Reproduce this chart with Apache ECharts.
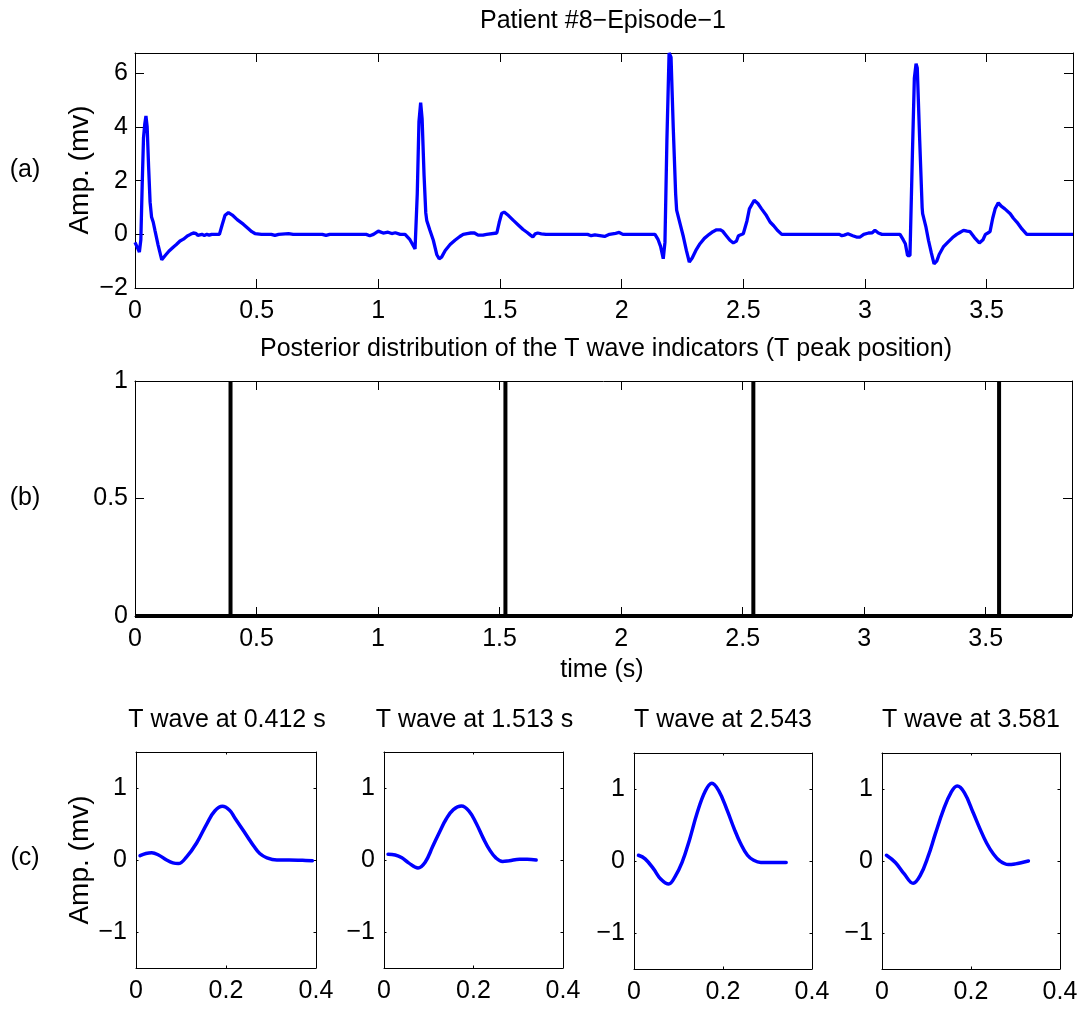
<!DOCTYPE html>
<html>
<head>
<meta charset="utf-8">
<script src="https://cdn.jsdelivr.net/npm/echarts@6/dist/echarts.min.js"></script>
<style>
html,body{margin:0;padding:0;background:#fff;}
#chart{width:1085px;height:1010px;}
</style>
</head>
<body>
<div id="chart"></div>
<script>
// ---------------- DATA ----------------
const mainTitle = 'Patient #8\u2212Episode\u22121';
const posteriorTitle = 'Posterior distribution of the T wave indicators (T peak position)';
const timeLabel = 'time (s)';
const ampLabel = 'Amp. (mv)';
const panelTags = ['(a)', '(b)', '(c)'];
const tWaveTitles = ['T wave at 0.412 s', 'T wave at 1.513 s', 'T wave at 2.543', 'T wave at 3.581'];

const timeTicks = [0, 0.5, 1, 1.5, 2, 2.5, 3, 3.5];
const ecgTicks = [-2, 0, 2, 4, 6];
const probTicks = [0, 0.5, 1];
const tWaveTimeTicks = [0, 0.2, 0.4];
const tWaveAmpTicks = [-1, 0, 1];

const timeRange = [0, 3.855];
const ecgRange = [-2, 6.76];

// ECG trace: [time (s), amplitude (mV)]
const ecgSamples = [
  [0.000,-0.30],[0.007,-0.35],[0.018,-0.66],[0.024,-0.20],[0.030,2.00],[0.035,3.60],[0.040,4.10],[0.045,4.41],
  [0.050,4.00],[0.056,2.50],[0.062,1.20],[0.068,0.65],[0.075,0.45],[0.082,0.15],[0.095,-0.40],[0.110,-0.95],
  [0.125,-0.78],[0.140,-0.62],[0.158,-0.47],[0.170,-0.38],[0.185,-0.25],[0.199,-0.18],[0.215,-0.06],[0.228,0.00],
  [0.240,0.05],[0.250,0.04],[0.258,-0.04],[0.266,0.02],[0.275,0.00],[0.285,-0.04],[0.295,0.00],[0.305,-0.03],
  [0.315,0.00],[0.347,0.00],[0.358,0.35],[0.370,0.71],[0.384,0.81],[0.400,0.72],[0.420,0.55],[0.445,0.38],
  [0.465,0.22],[0.480,0.10],[0.493,0.03],[0.520,0.00],[0.560,0.00],[0.575,-0.04],[0.590,0.00],[0.631,0.03],
  [0.650,0.00],[0.770,0.00],[0.785,-0.04],[0.800,0.00],[0.950,0.00],[0.965,-0.05],[0.980,0.00],[1.000,0.12],
  [1.020,0.05],[1.040,0.08],[1.055,0.03],[1.070,0.06],[1.090,0.00],[1.110,0.00],[1.130,-0.20],[1.151,-0.54],
  [1.160,1.50],[1.167,4.20],[1.174,4.91],[1.180,4.30],[1.188,2.20],[1.195,0.80],[1.199,0.52],[1.212,0.15],
  [1.226,-0.22],[1.240,-0.75],[1.250,-0.91],[1.260,-0.85],[1.275,-0.60],[1.295,-0.38],[1.315,-0.22],[1.335,-0.08],
  [1.349,0.00],[1.365,0.03],[1.380,0.05],[1.395,0.05],[1.410,-0.03],[1.430,-0.03],[1.445,0.00],[1.487,0.05],
  [1.497,0.45],[1.507,0.78],[1.517,0.83],[1.535,0.70],[1.555,0.52],[1.575,0.35],[1.595,0.18],[1.612,0.07],
  [1.624,-0.02],[1.635,-0.10],[1.645,0.02],[1.655,0.05],[1.660,-0.02],[1.670,0.02],[1.689,0.00],[1.692,0.05],
  [1.700,0.00],[1.860,0.00],[1.875,-0.05],[1.890,-0.02],[1.910,-0.05],[1.930,-0.08],[1.950,0.00],[1.975,0.04],
  [1.990,0.07],[2.005,0.00],[2.137,0.00],[2.150,-0.20],[2.160,-0.45],[2.171,-0.91],[2.178,-0.30],[2.186,3.50],
  [2.195,6.76],[2.203,6.60],[2.212,4.00],[2.222,1.50],[2.226,0.90],[2.240,0.40],[2.254,-0.10],[2.266,-0.60],
  [2.278,-1.03],[2.290,-0.88],[2.305,-0.60],[2.322,-0.35],[2.340,-0.15],[2.360,0.00],[2.375,0.10],[2.390,0.17],
  [2.405,0.17],[2.415,0.12],[2.430,-0.05],[2.445,-0.22],[2.459,-0.32],[2.472,-0.25],[2.480,-0.05],[2.487,0.00],
  [2.500,0.02],[2.507,0.09],[2.515,0.50],[2.525,0.95],[2.545,1.27],[2.560,1.15],[2.575,0.95],[2.595,0.70],
  [2.610,0.46],[2.625,0.32],[2.640,0.15],[2.658,0.00],[2.895,0.00],[2.905,-0.05],[2.915,-0.03],[2.930,0.02],
  [2.950,-0.05],[2.965,-0.10],[2.980,-0.10],[2.995,0.00],[3.015,0.05],[3.030,0.06],[3.041,0.15],[3.055,0.05],
  [3.070,0.00],[3.144,0.00],[3.157,-0.20],[3.166,-0.35],[3.175,-0.79],[3.185,-0.79],[3.195,3.00],[3.203,5.82],
  [3.210,6.36],[3.215,6.20],[3.225,3.50],[3.235,1.00],[3.237,0.77],[3.250,0.30],[3.261,-0.22],[3.273,-0.70],
  [3.284,-1.10],[3.295,-1.00],[3.305,-0.75],[3.322,-0.47],[3.340,-0.30],[3.360,-0.12],[3.377,0.00],[3.390,0.07],
  [3.405,0.15],[3.420,0.12],[3.432,0.10],[3.450,-0.12],[3.470,-0.32],[3.485,-0.20],[3.495,0.00],[3.505,0.05],
  [3.514,0.10],[3.525,0.60],[3.535,0.95],[3.548,1.18],[3.560,1.05],[3.575,0.95],[3.597,0.77],[3.610,0.60],
  [3.625,0.45],[3.645,0.20],[3.665,0.00],[3.830,0.00],[3.835,0.05],[3.840,0.00],[3.855,0.00]
];

// Posterior T-peak indicator positions (s), indicator value 1 at each
const tPeakTimes = [0.393, 1.524, 2.544, 3.555];

// Extracted T waves: [time within window (s), amplitude (mV)]
const tWave1 = [[0.009,0.06],[0.022,0.09],[0.035,0.10],[0.050,0.07],[0.068,0.00],[0.082,-0.04],[0.094,-0.05],[0.112,0.04],
  [0.135,0.24],[0.158,0.51],[0.175,0.68],[0.192,0.745],[0.208,0.69],[0.220,0.58],[0.232,0.47],[0.248,0.32],[0.262,0.19],
  [0.275,0.09],[0.291,0.03],[0.313,0.00],[0.340,0.00],[0.370,-0.005],[0.392,-0.01]];
const tWave2 = [[0.009,0.08],[0.025,0.07],[0.040,0.03],[0.055,-0.04],[0.076,-0.11],[0.092,-0.03],[0.109,0.19],[0.125,0.40],
  [0.139,0.57],[0.155,0.70],[0.173,0.75],[0.190,0.68],[0.206,0.51],[0.222,0.30],[0.236,0.14],[0.250,0.03],[0.265,-0.02],
  [0.280,-0.01],[0.303,0.01],[0.320,0.01],[0.340,0.00]];
const tWave3 = [[0.010,0.08],[0.025,0.03],[0.044,-0.11],[0.060,-0.25],[0.078,-0.32],[0.092,-0.22],[0.108,-0.02],[0.125,0.30],
  [0.142,0.67],[0.160,0.97],[0.175,1.08],[0.190,0.98],[0.209,0.71],[0.225,0.45],[0.239,0.25],[0.255,0.08],[0.269,0.01],
  [0.285,-0.02],[0.310,-0.02],[0.342,-0.02]];
const tWave4 = [[0.010,0.08],[0.030,-0.02],[0.050,-0.18],[0.070,-0.31],[0.086,-0.20],[0.104,0.07],[0.120,0.38],[0.138,0.71],
  [0.155,0.95],[0.169,1.04],[0.185,0.95],[0.205,0.67],[0.220,0.45],[0.235,0.25],[0.250,0.10],[0.265,0.00],[0.284,-0.05],
  [0.300,-0.04],[0.315,-0.02],[0.329,0.00]];
const tWaves = [tWave1, tWave2, tWave3, tWave4];

// ---------------- BUILD ----------------
const FONT = '"Liberation Sans", Arial, Helvetica, sans-serif';
const fmt = v => (v < 0 ? '\u2212' + Math.abs(v) : String(v));

// indicator trace: zero baseline with unit spikes at tPeakTimes
const indicatorData = [[timeRange[0], 0]];
tPeakTimes.forEach(t => { indicatorData.push([t, 0], [t, 1], [t, 0]); });
indicatorData.push([timeRange[1], 0]);

const grids = [
  {left: 135, top: 53, width: 938, height: 235},
  {left: 135, top: 381, width: 937, height: 235},
  {left: 136, top: 752, width: 180, height: 216},
  {left: 384, top: 752, width: 179, height: 216},
  {left: 634, top: 753, width: 178, height: 216},
  {left: 882, top: 753, width: 178, height: 216}
];

const xAxes = [], yAxes = [];
function addAxes(gi, xr, xt, yr, yt, tickLen, xMargin, yMargin) {
  const lineStyle = {color: '#000', width: 1};
  const common = {
    type: 'value', gridIndex: gi, splitLine: {show: false},
    axisLine: {show: true, onZero: false, lineStyle}
  };
  xAxes.push(Object.assign({}, common, {
    position: 'bottom', min: xr[0], max: xr[1],
    axisTick: {show: true, inside: true, length: tickLen, customValues: xt, lineStyle},
    axisLabel: {show: true, customValues: xt, formatter: fmt, margin: xMargin, color: '#000', fontFamily: FONT, fontSize: 25}
  }));
  xAxes.push(Object.assign({}, common, {
    position: 'top', min: xr[0], max: xr[1],
    axisTick: {show: true, inside: true, length: tickLen, customValues: xt, lineStyle},
    axisLabel: {show: false}
  }));
  yAxes.push(Object.assign({}, common, {
    position: 'left', min: yr[0], max: yr[1],
    axisTick: {show: true, inside: true, length: tickLen, customValues: yt, lineStyle},
    axisLabel: {show: true, customValues: yt, formatter: fmt, margin: yMargin, color: '#000', fontFamily: FONT, fontSize: 25}
  }));
  yAxes.push(Object.assign({}, common, {
    position: 'right', min: yr[0], max: yr[1],
    axisTick: {show: true, inside: true, length: tickLen, customValues: yt, lineStyle},
    axisLabel: {show: false}
  }));
}

addAxes(0, timeRange, timeTicks, ecgRange, ecgTicks, 9, 11, 7);
addAxes(1, timeRange, timeTicks, [0, 1], probTicks, 9, 11, 7);
for (let i = 0; i < 4; i++) addAxes(2 + i, [0, 0.4], tWaveTimeTicks, [-1.5, 1.5], tWaveAmpTicks, 2.5, 11, 9);

const series = [
  {type: 'line', xAxisIndex: 0, yAxisIndex: 0, data: ecgSamples, showSymbol: false, symbol: 'none',
   lineStyle: {color: '#0000ff', width: 3.3}, clip: true},
  {type: 'line', xAxisIndex: 2, yAxisIndex: 2, data: indicatorData, showSymbol: false, symbol: 'none',
   lineStyle: {color: '#000', width: 4}, clip: true}
];
tWaves.forEach((w, i) => {
  series.push({type: 'line', xAxisIndex: 4 + 2 * i, yAxisIndex: 4 + 2 * i, data: w, showSymbol: false, symbol: 'none',
    smooth: 0.4, lineStyle: {color: '#0000ff', width: 3.5, cap: 'round', join: 'round'}, clip: true});
});

function txt(text, x, y, size, rot) {
  return {type: 'text', x: x, y: y, rotation: rot || 0,
    style: {text: text, fill: '#000', font: size + 'px ' + FONT, textAlign: 'center', textVerticalAlign: 'middle'}};
}
const twCenters = [227, 474.5, 723, 971];
const graphic = [
  txt(mainTitle, 603, 21.5, 25),
  txt(posteriorTitle, 606, 349, 25),
  txt(timeLabel, 602, 670.5, 25),
  txt(panelTags[0], 25, 170, 25),
  txt(panelTags[1], 25, 498, 25),
  txt(panelTags[2], 25, 858, 25),
  txt(ampLabel, 80, 170, 28, Math.PI / 2),
  txt(ampLabel, 80, 860, 28, Math.PI / 2)
];
tWaveTitles.forEach((t, i) => graphic.push(txt(t, twCenters[i], 720, 25)));

const chart = echarts.init(document.getElementById('chart'), null, {renderer: 'canvas'});
chart.setOption({
  animation: false,
  backgroundColor: '#fff',
  grid: grids,
  xAxis: xAxes,
  yAxis: yAxes,
  series: series,
  graphic: graphic
});
</script>
</body>
</html>
